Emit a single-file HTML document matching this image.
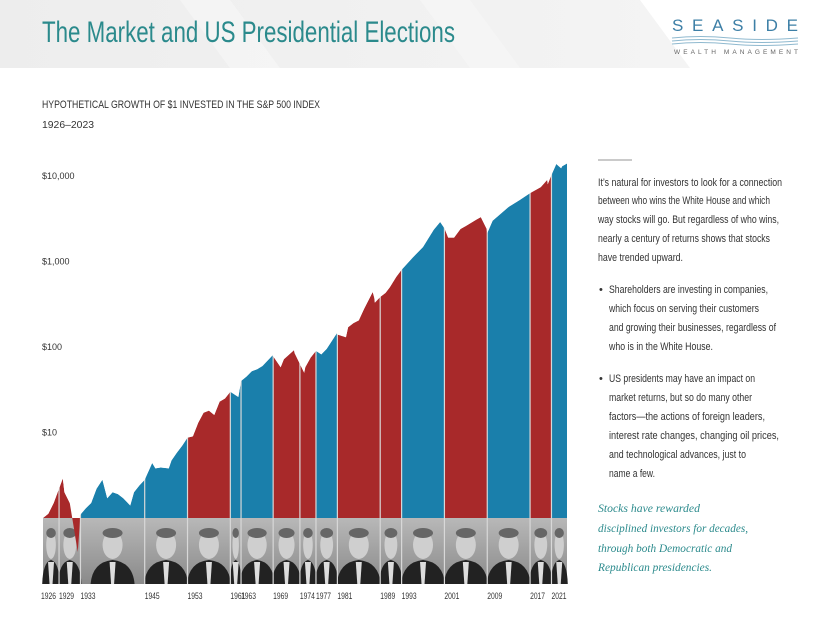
<!DOCTYPE html>
<html><head><meta charset="utf-8"><style>
html,body{margin:0;padding:0;background:#fff;}
svg{display:block;font-family:"Liberation Sans",sans-serif;}
</style></head><body>
<svg id="chart" width="825" height="638" viewBox="0 0 825 638">
  <defs>
    <linearGradient id="strip" x1="0" y1="0" x2="0" y2="1">
      <stop offset="0" stop-color="#b8b8b8"/><stop offset="1" stop-color="#8a8a8a"/>
    </linearGradient>
    <linearGradient id="hdr" x1="0" y1="0" x2="1" y2="0">
      <stop offset="0" stop-color="#ededed"/><stop offset="1" stop-color="#f4f4f4"/>
    </linearGradient>
  </defs>
  <g>
    <polygon points="0,0 640,0 690,68 0,68" fill="url(#hdr)"/>
    <polygon points="180,0 230,0 280,68 230,68" fill="#f6f6f6" opacity="0.7"/>
    <polygon points="420,0 470,0 520,68 470,68" fill="#f6f6f6" opacity="0.7"/>
    <text x="42" y="42" font-size="30" fill="#2b8a8c" textLength="413" lengthAdjust="spacingAndGlyphs">The Market and US Presidential Elections</text>
    <text x="672" y="31" font-size="17" fill="#3d7fa6" textLength="126" lengthAdjust="spacing">SEASIDE</text>
    <path d="M672 38 Q700 35 730 38 T798 38 M672 41 Q700 38 730 41 T798 41 M672 44 Q700 41 730 44 T798 44" stroke="#8fb9cf" stroke-width="1" fill="none"/>
    <text x="674" y="54" font-size="6.5" fill="#666" textLength="124" lengthAdjust="spacing">WEALTH MANAGEMENT</text>
  </g>
  <text x="42" y="108" font-size="11" fill="#333" textLength="278" lengthAdjust="spacingAndGlyphs">HYPOTHETICAL GROWTH OF $1 INVESTED IN THE S&amp;P 500 INDEX</text>
  <text x="42" y="128" font-size="10.5" fill="#333" textLength="52" lengthAdjust="spacingAndGlyphs">1926–2023</text>
  <g id="plot"></g>
  <g>
    <line x1="598" y1="160" x2="632" y2="160" stroke="#aaa" stroke-width="1.2"/>
    <g font-size="11" fill="#333">
      <text x="598" y="186" textLength="184" lengthAdjust="spacingAndGlyphs">It’s natural for investors to look for a connection</text>
      <text x="598" y="204" textLength="172" lengthAdjust="spacingAndGlyphs">between who wins the White House and which</text>
      <text x="598" y="223" textLength="181" lengthAdjust="spacingAndGlyphs">way stocks will go. But regardless of who wins,</text>
      <text x="598" y="242" textLength="172" lengthAdjust="spacingAndGlyphs">nearly a century of returns shows that stocks</text>
      <text x="598" y="261" textLength="85" lengthAdjust="spacingAndGlyphs">have trended upward.</text>
    </g>
    <g font-size="11" fill="#333">
      <text x="599" y="293">•</text>
      <text x="609" y="293" textLength="159" lengthAdjust="spacingAndGlyphs">Shareholders are investing in companies,</text>
      <text x="609" y="312" textLength="150" lengthAdjust="spacingAndGlyphs">which focus on serving their customers</text>
      <text x="609" y="331" textLength="167" lengthAdjust="spacingAndGlyphs">and growing their businesses, regardless of</text>
      <text x="609" y="350" textLength="104" lengthAdjust="spacingAndGlyphs">who is in the White House.</text>
    </g>
    <g font-size="11" fill="#333">
      <text x="599" y="382">•</text>
      <text x="609" y="382" textLength="146" lengthAdjust="spacingAndGlyphs">US presidents may have an impact on</text>
      <text x="609" y="401" textLength="143" lengthAdjust="spacingAndGlyphs">market returns, but so do many other</text>
      <text x="609" y="420" textLength="156" lengthAdjust="spacingAndGlyphs">factors—the actions of foreign leaders,</text>
      <text x="609" y="439" textLength="170" lengthAdjust="spacingAndGlyphs">interest rate changes, changing oil prices,</text>
      <text x="609" y="458" textLength="137" lengthAdjust="spacingAndGlyphs">and technological advances, just to</text>
      <text x="609" y="477" textLength="46" lengthAdjust="spacingAndGlyphs">name a few.</text>
    </g>
    <g font-size="11.5" font-style="italic" fill="#2b8a8c" font-family="Liberation Serif, serif">
      <text x="598" y="512" textLength="102" lengthAdjust="spacingAndGlyphs">Stocks have rewarded</text>
      <text x="598" y="532" textLength="150" lengthAdjust="spacingAndGlyphs">disciplined investors for decades,</text>
      <text x="598" y="552" textLength="134" lengthAdjust="spacingAndGlyphs">through both Democratic and</text>
      <text x="598" y="571" textLength="114" lengthAdjust="spacingAndGlyphs">Republican presidencies.</text>
    </g>
  </g>
</svg>
<script>
const years = [1926,1927,1928,1929.7,1930,1931,1932.5,1933,1934,1935,1936,1937.1,1938,1939,1940,1941,1942.3,1943,1944,1945,1946.4,1947,1948,1949.5,1950,1951,1952,1953,1954,1955,1956,1957,1958,1959,1960,1961,1962.5,1963,1964,1965,1966,1967,1968.9,1969,1970.4,1971,1972.9,1973,1974.8,1975,1976,1977,1978,1979,1980.9,1981,1982.6,1983,1984,1985,1986,1987.6,1987.9,1988,1989,1990,1990.8,1992,1993,1995,1997,1999,2000.2,2001,2001.7,2002.8,2004,2005,2007,2007.8,2008.9,2009,2010,2013,2015,2017,2019,2020.2,2020.3,2021,2021.9,2022.8,2023,2023.9];
const values = [1,1.12,1.5,2.9,2.0,1.5,0.4,1.1,1.3,1.5,2.2,2.8,1.7,2.0,1.9,1.7,1.4,2.0,2.4,2.8,4.4,3.8,3.9,3.8,4.7,5.8,7.0,8.7,9.0,13,17,18,16,23,25,30,26,40,45,52,55,60,80,78,58,72,92,85,50,58,75,90,82,95,145,140,130,170,190,205,280,440,375,330,385,430,500,660,800,1100,1480,2350,2900,2450,1900,1900,2400,2600,3100,3300,2400,2150,3000,4350,5200,6300,7400,9000,8000,10300,13800,12300,13000,14000];
const termStarts = [1926,1929,1933,1945,1953,1961,1963,1969,1974,1977,1981,1989,1993,2001,2009,2017,2021];
const termParty = ["R","R","D","D","R","D","D","R","R","D","R","R","D","R","D","R","D"];
const tickValues = [10,100,1000,10000];
const tickLabels = ["$10","$100","$1,000","$10,000"];
const endYear = 2023.9;

const NS = "http://www.w3.org/2000/svg";
const plot = document.getElementById("plot");
const x0 = 43, x1 = 567, baseY = 518, pxPerDecade = 85.5;
const xScale = y => x0 + (y - 1926) / (endYear - 1926) * (x1 - x0);
const yScale = v => baseY - Math.log10(v) * pxPerDecade;
const colors = {R:"#a8292a", D:"#1a7fab"};
function mk(tag, attrs){const e=document.createElementNS(NS,tag);for(const k in attrs)e.setAttribute(k,attrs[k]);return e;}

const strip = mk("rect",{x:x0,y:baseY,width:x1-x0,height:66,fill:"url(#strip)"});


plot.appendChild(strip);

termStarts.forEach((s,i)=>{
  const e = i<termStarts.length-1 ? termStarts[i+1] : endYear;
  const a = xScale(s), b = xScale(e);
  const cx = (a+b)/2, w = Math.min(b-a, 40);
  const g = mk("g",{});
  
  
  g.appendChild(mk("path",{d:`M${cx-w*0.55} 584 Q${cx-w*0.5} 562 ${cx} 560 Q${cx+w*0.5} 562 ${cx+w*0.55} 584 Z`,fill:"#222"}));
  g.appendChild(mk("path",{d:`M${cx-3} 562 L${cx+3} 562 L${cx+1.5} 584 L${cx-1.5} 584 Z`,fill:"#ddd"}));
  g.appendChild(mk("ellipse",{cx:cx,cy:545,rx:Math.min(w*0.3,10),ry:14,fill:"#cfcfcf"}));
  g.appendChild(mk("ellipse",{cx:cx,cy:533,rx:Math.min(w*0.3,10),ry:5,fill:"#666"}));
  plot.appendChild(g);
});

let areaD = `M${xScale(years[0])} ${baseY}`;
years.forEach((y,i)=>{ areaD += ` L${xScale(y).toFixed(2)} ${yScale(values[i]).toFixed(2)}`; });
areaD += ` L${xScale(years[years.length-1])} ${baseY} Z`;

termStarts.forEach((s,i)=>{
  const e = i<termStarts.length-1 ? termStarts[i+1] : endYear;
  const a = xScale(s), b = xScale(e);
  const cp = mk("clipPath",{id:"clip"+i});
  cp.appendChild(mk("rect",{x:a,y:0,width:b-a,height:600}));
  plot.appendChild(cp);
  const p = mk("path",{d:areaD,fill:colors[termParty[i]],"clip-path":`url(#clip${i})`});
  
  
  plot.appendChild(p);
});

let coverD = `M${x0} 140 L${xScale(years[0])} ${baseY}`;
years.forEach((y,i)=>{ coverD += ` L${xScale(y).toFixed(2)} ${Math.min(yScale(values[i]),baseY).toFixed(2)}`; });
coverD += ` L${x1+1} ${yScale(values[values.length-1])} L${x1+1} 140 Z`;

termStarts.forEach((s,i)=>{
  const a = xScale(s);
  if(i>0){
    const ln = mk("line",{x1:a,x2:a,y1:140,y2:584,stroke:"#d8d8d8","stroke-width":1.2});
    
    
    plot.appendChild(ln);
  }
  const t = mk("text",{x:(i===0?41:a),y:599,"font-size":9.5,fill:"#333",textLength:15,lengthAdjust:"spacingAndGlyphs"});
  t.textContent = String(s);
  
  
  plot.appendChild(t);
});

const cover = mk("path",{d:coverD,fill:"#fff"});


plot.appendChild(cover);

tickValues.forEach((v,i)=>{
  const t = mk("text",{x:42,y:yScale(v)+3,"font-size":9,fill:"#333"});
  t.textContent = tickLabels[i];
  
  
  plot.appendChild(t);
});
</script>
</body></html>
